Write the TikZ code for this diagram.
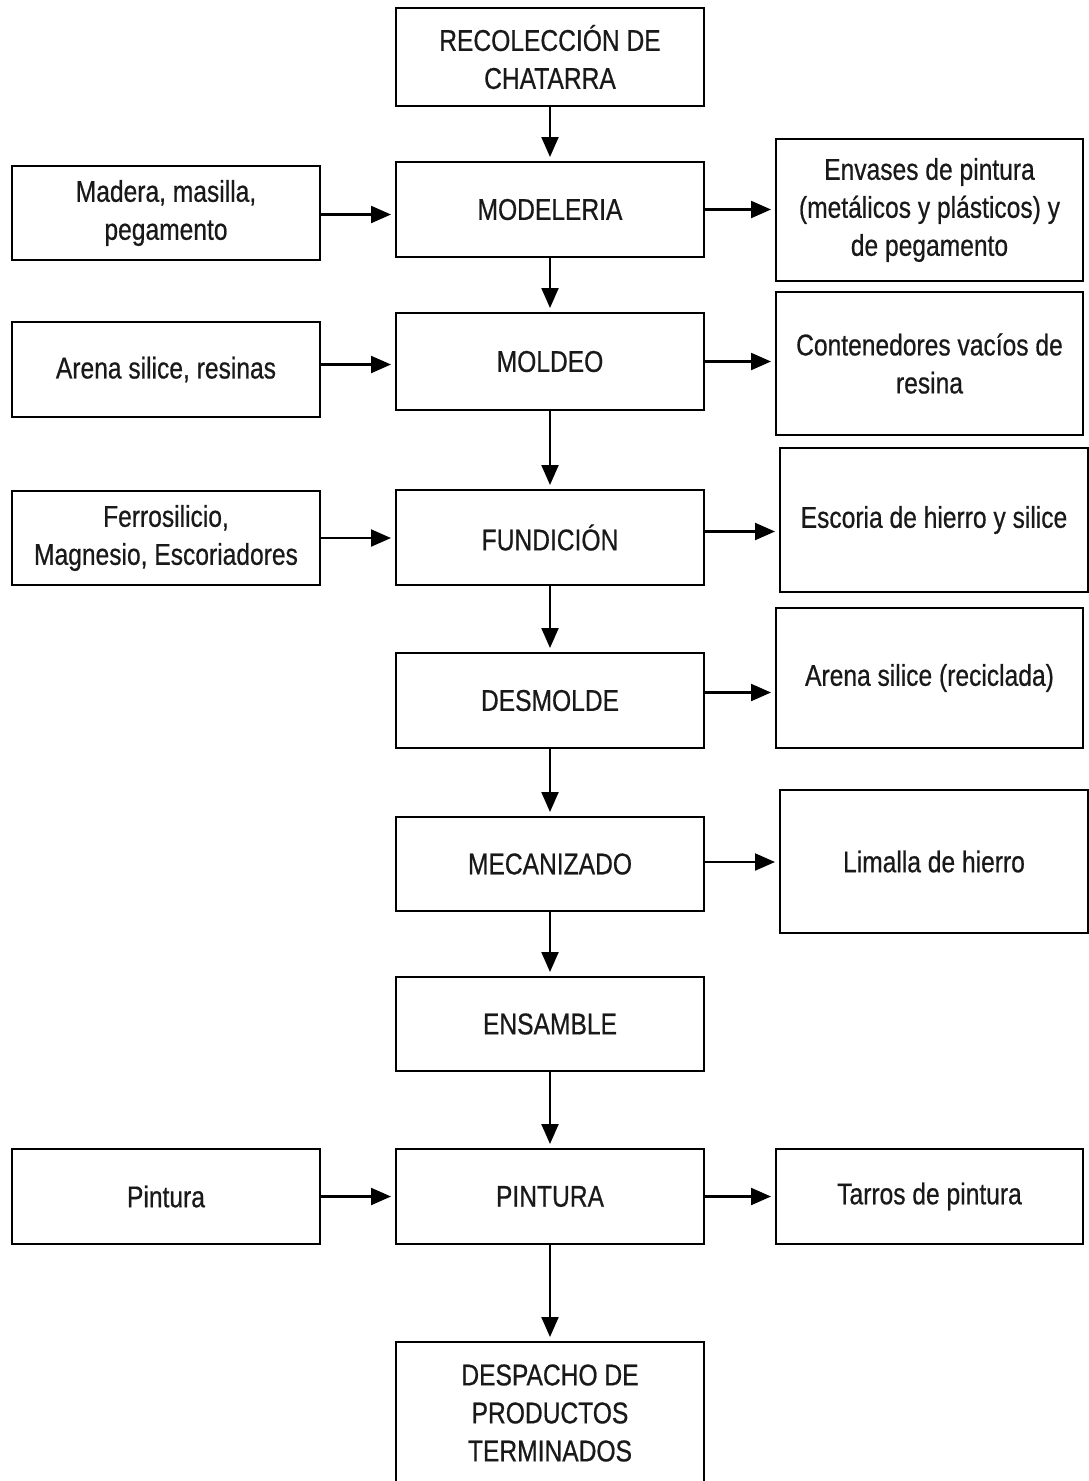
\documentclass[tikz,border=0pt]{standalone}
\usepackage{fontspec}
\setmainfont{Liberation Sans}[FakeStretch=0.82,FakeBold=0.6]
\usetikzlibrary{arrows.meta}
\begin{document}
\begin{tikzpicture}[x=1pt,y=-1pt,
  box/.style={draw=black,line width=2pt,rectangle,align=center,inner sep=2pt,
    font=\fontsize{30pt}{38pt}\selectfont,text=black!90},
  cbox/.style={box,minimum width=308pt},
  rbox/.style={box,minimum width=307pt},
  arr/.style={draw=black,line width=2.2pt,-{Triangle[length=20pt,width=17pt]},shorten >=4pt}]
\useasboundingbox (0,0) rectangle (1089,1481);
% central column
\node[cbox,minimum height=98pt] (rec) at (550,57) {RECOLECCIÓN DE\\CHATARRA};
\node[cbox,minimum height=95pt] (mod) at (550,209.5) {MODELERIA};
\node[cbox,minimum height=97pt] (mol) at (550,361.5) {MOLDEO};
\node[cbox,minimum height=95pt] (fun) at (550,537.5) {FUNDICIÓN};
\node[cbox,minimum height=95pt] (des) at (550,700.5) {DESMOLDE};
\node[cbox,minimum height=94pt] (mec) at (550,864) {MECANIZADO};
\node[cbox,minimum height=94pt] (ens) at (550,1024) {ENSAMBLE};
\node[cbox,minimum height=95pt] (pin) at (550,1196.5) {PINTURA};
\node[cbox,minimum height=142pt] (dsp) at (550,1413) {DESPACHO DE\\PRODUCTOS\\TERMINADOS};
% left column
\node[cbox,minimum height=94pt] (mad) at (166,213) {Madera, masilla,\\pegamento};
\node[cbox,minimum height=95pt] (are) at (166,369.5) {Arena silice, resinas};
\node[cbox,minimum height=94pt] (fer) at (166,538) {Ferrosilicio,\\Magnesio, Escoriadores};
\node[cbox,minimum height=95pt] (pil) at (166,1196.5) {Pintura};
% right column
\node[rbox,minimum height=142pt] (env) at (929.5,210) {Envases de pintura\\(metálicos y plásticos) y\\de pegamento};
\node[rbox,minimum height=143pt] (con) at (929.5,363.5) {Contenedores vacíos de\\resina};
\node[cbox,minimum height=144pt] (esc) at (934,520) {Escoria de hierro y silice};
\node[rbox,minimum height=140pt] (ars) at (929.5,678) {Arena silice (reciclada)};
\node[cbox,minimum height=143pt] (lim) at (934,861.5) {Limalla de hierro};
\node[rbox,minimum height=95pt] (tar) at (929.5,1196.5) {Tarros de pintura};
% vertical flow
\draw[arr] (rec.south) -- (mod.north);
\draw[arr] (mod.south) -- (mol.north);
\draw[arr] (mol.south) -- (fun.north);
\draw[arr] (fun.south) -- (des.north);
\draw[arr] (des.south) -- (mec.north);
\draw[arr] (mec.south) -- (ens.north);
\draw[arr] (ens.south) -- (pin.north);
\draw[arr] (pin.south) -- (dsp.north);
% inputs
\draw[arr] ([yshift=-1.5pt]mad.east) -- ([yshift=-1.5pt]mad.east -| mod.west);
\draw[arr] ([yshift=5pt]are.east) -- ([yshift=5pt]are.east -| mol.west);
\draw[arr] (fer.east) -- (fer.east -| fun.west);
\draw[arr] (pil.east) -- (pil.east -| pin.west);
% outputs
\draw[arr] (mod.east) -- (mod.east -| env.west);
\draw[arr] (mol.east) -- (mol.east -| con.west);
\draw[arr] ([yshift=6pt]fun.east) -- ([yshift=6pt]fun.east -| esc.west);
\draw[arr] ([yshift=8pt]des.east) -- ([yshift=8pt]des.east -| ars.west);
\draw[arr] ([yshift=2pt]mec.east) -- ([yshift=2pt]mec.east -| lim.west);
\draw[arr] (pin.east) -- (pin.east -| tar.west);
\end{tikzpicture}
\end{document}
